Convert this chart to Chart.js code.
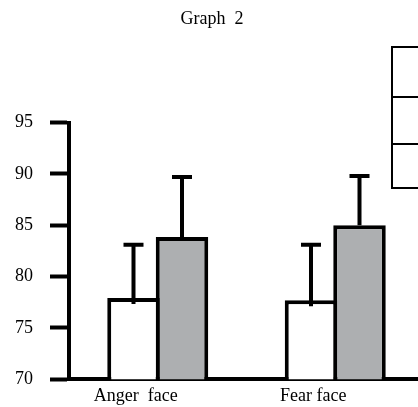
<!DOCTYPE html>
<html>
<head>
<meta charset="utf-8">
<script src="https://cdn.jsdelivr.net/npm/chart.js@4"></script>
<style>
body { margin: 0; overflow: hidden; background: #fff; }
#wrap { position: absolute; left: 0; top: 0; width: 418px; height: 407px; overflow: hidden; }
.legendBox { position: absolute; left: 391px; width: 60px; border: 2px solid #000; box-sizing: border-box; }
</style>
</head>
<body>
<div id="wrap">
<canvas id="graph2" width="430" height="407"></canvas>
<div class="legendBox" style="top:46px;height:52px"></div>
<div class="legendBox" style="top:96px;height:49px"></div>
<div class="legendBox" style="top:143px;height:46px"></div>
</div>
<script>
// values
var categories = ['Anger  face', 'Fear face'];
var whiteValues = [77.9, 77.7];
var grayValues = [83.85, 85.0];
var whiteErr = [5.2, 5.4];
var grayErr = [5.85, 4.8];
var yTicks = [70, 75, 80, 85, 90, 95];

var serif = 'Liberation Serif';

// draws the upper error whiskers on top of the bars
var errorBars = {
    id: 'errorBars',
    afterDatasetsDraw(chart) {
        let ctx = chart.ctx;
        let y = chart.scales.y;
        ctx.save();
        ctx.strokeStyle = '#000';
        ctx.lineWidth = 4;
        chart.data.datasets.forEach(function(ds, i){
            let meta = chart.getDatasetMeta(i);
            meta.data.forEach(function(bar, j){
                let top = y.getPixelForValue(ds.data[j] + ds.errors[j]);
                let start = bar.y + (i == 0 ? 6 : 0);
                ctx.beginPath();
                ctx.moveTo(bar.x, start);
                ctx.lineTo(bar.x, top);
                ctx.moveTo(bar.x - 10, top);
                ctx.lineTo(bar.x + 10, top);
                ctx.stroke();
            });
        });
        ctx.restore();
    }
};

var ctx = document.getElementById('graph2').getContext('2d');
var myChart = new Chart(ctx, {
    type: 'bar',
    data: {
        labels: categories,
        datasets: [{
            label: 'Series 1',
            data: whiteValues,
            errors: whiteErr,
            backgroundColor: '#ffffff',
            borderColor: '#000000',
            borderWidth: 4,
            barPercentage: 1.0825,
            categoryPercentage: 0.5465
        }, {
            label: 'Series 2',
            data: grayValues,
            errors: grayErr,
            backgroundColor: '#adafb1',
            borderColor: '#000000',
            borderWidth: 4,
            barPercentage: 1.0825,
            categoryPercentage: 0.5465
        }]
    },
    options: {
        responsive: false,
        animation: false,
        layout: { padding: { left: 0, right: 6, top: 0, bottom: 0 } },
        plugins: {
            legend: { display: false },
            tooltip: { enabled: false },
            title: {
                display: true,
                text: 'Graph  2',
                color: '#000',
                font: { family: serif, size: 18, weight: 'normal' },
                padding: { top: 8, bottom: 93 }
            }
        },
        scales: {
            x: {
                grid: { display: false },
                border: { display: true, width: 4, color: '#000' },
                ticks: {
                    color: '#000',
                    font: { family: serif, size: 18 },
                    padding: -2,
                    labelOffset: -22,
                    maxRotation: 0
                },
                afterFit(scale) { scale.height = 27; }
            },
            y: {
                min: 70,
                max: 95,
                afterBuildTicks(scale) {
                    scale.ticks = yTicks.map(function(v){ return { value: v }; });
                },
                grid: {
                    drawOnChartArea: false,
                    drawTicks: true,
                    tickLength: 19,
                    tickWidth: 4,
                    tickColor: '#000'
                },
                border: { display: true, width: 4, color: '#000' },
                ticks: {
                    color: '#000',
                    font: { family: serif, size: 18 },
                    padding: 17
                },
                afterFit(scale) { scale.width = 69; }
            }
        }
    },
    plugins: [errorBars]
});
</script>
</body>
</html>
